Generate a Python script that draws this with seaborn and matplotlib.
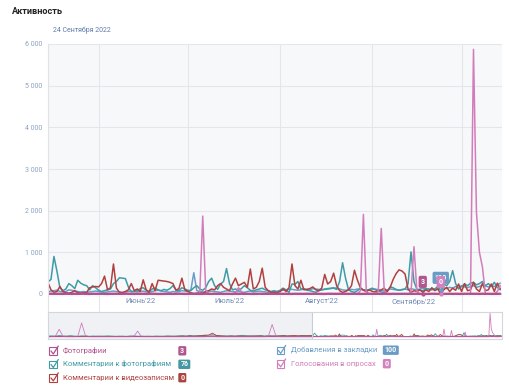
import numpy as np
import pandas as pd
import matplotlib
matplotlib.use("Agg")
import matplotlib.pyplot as plt
import matplotlib.transforms as mtransforms
from matplotlib.patches import Rectangle, FancyBboxPatch
from matplotlib.ticker import FixedLocator, FuncFormatter, NullFormatter
import seaborn as sns

# ---------------- data ----------------
TITLE = "Активность"
DATE_LABEL = "24 Сентября 2022"
START = "2022-05-15"
HOVER = "2022-09-24"
NAV_START = "2021-10-15"

series_names = ["Фотографии", "Комментарии к фотографиям", "Комментарии к видеозаписям",
                "Добавления в закладки", "Голосования в опросах"]
series_colors = ["#b2508f", "#3f9ba6", "#b2403f", "#6a9dc8", "#d27dbb"]
badge_colors = ["#b0578f", "#4597a3", "#a9443f", "#6c9cc5", "#d283bd"]
month_labels = ["Июнь'22", "Июль'22", "Август'22", "Сентябрь'22"]
y_ticks = [0, 1000, 2000, 3000, 4000, 5000, 6000]

photos = [5, 8, 3, 6, 4, 2, 7, 5, 3, 6, 4, 5, 8, 3, 2, 6, 4, 5, 7, 3,
          2, 4, 6, 5, 3, 4, 8, 6, 3, 2, 5, 4, 6, 3, 5, 7, 4, 2, 3, 6,
          5, 4, 3, 6, 8, 5, 3, 4, 6, 5, 3, 2, 4, 6, 5, 3, 7, 4, 5, 3,
          6, 4, 2, 5, 3, 6, 4, 5, 3, 2, 4, 6, 5, 3, 4, 7, 5, 3, 6, 4,
          5, 3, 2, 6, 4, 5, 3, 7, 4, 6, 5, 3, 4, 2, 6, 5, 3, 4, 6, 5,
          3, 4, 5, 6, 3, 2, 4, 5, 6, 3, 4, 5, 3, 6, 4, 2, 5, 3, 4, 6,
          5, 3, 4, 6, 5, 3, 4, 2, 5, 6, 4, 3, 3, 5, 4, 6, 3, 5, 4, 2,
          6, 5, 3, 4, 5, 3, 6, 4, 5, 3, 4, 6, 5]

photo_comments = [290, 350, 900, 550, 150, 80, 120, 250, 200, 130,
                  330, 260, 220, 200, 100, 200, 150, 90, 60, 80,
                  100, 120, 250, 300, 390, 380, 370, 170, 50, 60,
                  80, 130, 150, 90, 60, 120, 140, 100, 80, 110,
                  90, 130, 200, 100, 80, 150, 120, 90, 80, 150,
                  200, 120, 90, 150, 300, 380, 200, 110, 240, 300,
                  610, 250, 100, 120, 90, 130, 200, 150, 90, 70,
                  100, 120, 140, 100, 80, 60, 80, 40, 90, 140,
                  100, 40, 240, 230, 300, 120, 130, 90, 80, 60,
                  40, 80, 100, 110, 120, 130, 140, 110, 300, 750,
                  380, 100, 60, 40, 80, 140, 100, 90, 110, 140,
                  100, 70, 50, 40, 60, 170, 150, 110, 90, 100,
                  120, 240, 1010, 300, 110, 90, 80, 130, 110, 100,
                  120, 180, 76, 240, 200, 300, 560, 250, 120, 180,
                  240, 200, 260, 280, 220, 250, 300, 200, 250, 180,
                  280, 160, 100]

video_comments = [270, 100, 40, 60, 180, 60, 30, 20, 40, 80,
                  30, 20, 30, 40, 150, 170, 180, 170, 250, 430,
                  100, 150, 720, 140, 40, 30, 60, 100, 250, 80,
                  120, 60, 340, 100, 40, 250, 80, 330, 320, 310,
                  300, 280, 250, 90, 130, 380, 100, 60, 30, 10,
                  20, 30, 20, 60, 80, 120, 100, 200, 250, 160,
                  120, 80, 240, 380, 200, 240, 280, 160, 600, 120,
                  160, 300, 620, 160, 80, 40, 40, 30, 60, 120,
                  60, 150, 720, 200, 120, 330, 100, 110, 130, 170,
                  100, 80, 140, 470, 240, 300, 500, 200, 80, 40,
                  60, 100, 200, 570, 330, 150, 90, 60, 100, 60,
                  50, 80, 100, 140, 60, 160, 350, 490, 580, 550,
                  480, 120, 40, 80, 60, 100, 40, 100, 60, 150,
                  80, 120, 0, 100, 160, 60, 140, 90, 240, 60,
                  250, 80, 100, 280, 120, 60, 250, 80, 100, 240,
                  60, 260, 120]

bookmarks = [60, 70, 80, 90, 60, 50, 60, 100, 90, 70,
             60, 50, 60, 40, 50, 60, 70, 60, 50, 40,
             50, 60, 70, 60, 50, 40, 50, 60, 70, 60,
             50, 60, 70, 50, 40, 60, 80, 90, 70, 60,
             50, 40, 60, 50, 60, 80, 70, 60, 90, 510,
             80, 60, 50, 40, 60, 70, 60, 50, 40, 60,
             80, 70, 60, 50, 60, 50, 40, 60, 70, 50,
             60, 70, 60, 50, 40, 50, 60, 70, 80, 90,
             100, 120, 110, 100, 90, 100, 120, 110, 100, 130,
             120, 110, 100, 120, 130, 140, 150, 140, 120, 100,
             90, 100, 110, 100, 120, 110, 100, 90, 100, 110,
             120, 100, 90, 80, 100, 120, 110, 100, 90, 110,
             120, 100, 130, 110, 100, 120, 140, 130, 120, 110,
             120, 140, 100, 150, 130, 160, 140, 180, 150, 200,
             170, 150, 180, 200, 160, 180, 220, 190, 170, 200,
             180, 220, 260]

polls = [0, 0, 0, 0, 0, 0, 0, 0, 0, 0,
         0, 0, 0, 0, 0, 0, 0, 0, 0, 0,
         0, 0, 0, 0, 0, 0, 0, 0, 0, 0,
         0, 0, 0, 0, 0, 0, 0, 0, 0, 0,
         0, 0, 0, 0, 0, 0, 0, 0, 0, 0,
         0, 0, 1870, 100, 0, 0, 0, 0, 0, 0,
         0, 0, 0, 40, 150, 60, 0, 0, 0, 0,
         0, 0, 0, 0, 0, 0, 0, 0, 0, 0,
         0, 0, 0, 0, 0, 0, 0, 0, 0, 0,
         0, 0, 0, 0, 0, 0, 0, 0, 0, 0,
         0, 0, 0, 0, 0, 80, 1910, 50, 0, 0,
         0, 60, 1575, 80, 0, 0, 0, 0, 0, 0,
         0, 0, 40, 1135, 60, 0, 0, 0, 0, 0,
         0, 0, 0, 0, 0, 0, 0, 0, 0, 0,
         0, 0, 0, 5870, 1950, 1000, 650, 0, 0, 0,
         0, 60, 200]

# navigator: earlier period, one value every 3 days
nav_photos = [4, 5, 3, 6, 4, 5, 3, 4, 6, 5, 3, 4, 5, 6, 4, 3, 5, 4, 6, 3,
              5, 4, 3, 6, 5, 4, 3, 5, 4, 6, 3, 5, 4, 6, 5, 3, 4, 5, 6, 4,
              3, 5, 4, 6, 5, 3, 4, 5, 6, 4, 3, 5, 4, 6, 5, 3, 4, 5, 6, 4,
              3, 5, 4, 6, 5, 3, 4, 5, 6, 4, 5]
nav_photo_comments = [150, 200, 120, 300, 180, 100, 250, 160, 120, 200,
                      140, 100, 180, 120, 90, 150, 200, 130, 100, 160,
                      120, 90, 140, 200, 110, 150, 100, 80, 120, 160,
                      100, 140, 180, 120, 160, 200, 250, 180, 300, 200,
                      250, 300, 400, 350, 500, 300, 250, 200, 180, 220,
                      160, 200, 350, 250, 180, 220, 200, 300, 150, 250,
                      200, 180, 260, 300, 200, 250, 180, 220, 300, 250, 280]
nav_video_comments = [100, 80, 120, 60, 90, 140, 100, 80, 60, 100,
                      120, 80, 60, 100, 140, 90, 70, 110, 80, 60,
                      100, 80, 120, 90, 60, 80, 100, 120, 70, 90,
                      110, 80, 100, 140, 90, 120, 160, 100, 200, 150,
                      180, 250, 300, 400, 900, 350, 200, 150, 120, 180,
                      140, 200, 160, 120, 180, 150, 200, 160, 120, 180,
                      150, 200, 160, 250, 180, 220, 300, 200, 250, 220, 260]
nav_bookmarks = [60, 80, 70, 90, 60, 50, 70, 80, 60, 90,
                 70, 60, 50, 80, 70, 60, 90, 80, 70, 60,
                 50, 70, 80, 60, 90, 70, 60, 80, 70, 60,
                 80, 70, 90, 60, 70, 80, 100, 90, 80, 70,
                 90, 100, 120, 110, 100, 90, 80, 70, 90, 80,
                 70, 60, 80, 90, 70, 60, 80, 70, 90, 60,
                 70, 80, 60, 90, 70, 60, 80, 70, 60, 80, 70]
nav_polls = [0, 0, 200, 1870, 100, 0, 0, 0, 150, 3470,
             300, 0, 0, 0, 0, 0, 0, 0, 0, 0,
             0, 0, 0, 100, 1400, 0, 0, 0, 0, 0,
             0, 0, 0, 0, 0, 0, 0, 0, 0, 0,
             0, 0, 0, 200, 300, 0, 0, 0, 0, 0,
             0, 0, 0, 0, 0, 0, 0, 0, 0, 150,
             3080, 200, 0, 0, 0, 0, 0, 0, 0, 0, 0]

# ---------------- frames ----------------
values = [photos, photo_comments, video_comments, bookmarks, polls]
nav_values = [nav_photos, nav_photo_comments, nav_video_comments, nav_bookmarks, nav_polls]
dates = pd.date_range(START, periods=len(photos), freq="D")
nav_dates = pd.date_range(NAV_START, periods=len(nav_photos), freq="3D")
hover = pd.Timestamp(HOVER)
hidx = int((hover - dates[0]).days)

df = pd.concat([pd.DataFrame({"date": dates, "value": v, "series": n})
                for n, v in zip(series_names, values)], ignore_index=True)
nav_df = pd.concat([df] + [pd.DataFrame({"date": nav_dates, "value": v, "series": n})
                           for n, v in zip(series_names, nav_values)], ignore_index=True)
nav_df = nav_df.sort_values(["series", "date"])

palette = dict(zip(series_names, series_colors))
draw_order = ["Добавления в закладки", "Комментарии к фотографиям",
              "Комментарии к видеозаписям", "Голосования в опросах", "Фотографии"]

# ---------------- figure ----------------
sns.set_theme(style="white")
plt.rcParams["font.family"] = ["Roboto", "DejaVu Sans"]

W_PX, H_PX = 509, 390
fig = plt.figure(figsize=(W_PX / 100, H_PX / 100), dpi=100)

def frac_rect(x0, y0, x1, y1):
    return [x0 / W_PX, 1 - y1 / H_PX, (x1 - x0) / W_PX, (y1 - y0) / H_PX]

x_right = dates[-1] + pd.Timedelta(hours=14)
grid_c = "#e3e6ea"
month_starts = pd.date_range("2022-06-01", "2022-10-01", freq="MS")
month_mids = [d + pd.Timedelta(days=14) for d in month_starts[:-1]]

# main axes
ax = fig.add_axes(frac_rect(48, 44, 502, 296.5))
ax.set_facecolor("#f7f8fa")
sns.lineplot(data=df, x="date", y="value", hue="series", hue_order=draw_order,
             palette=palette, estimator=None, linewidth=1.1, legend=False, ax=ax)
ax.lines[-1].set_linewidth(1.7)
ax.set_xlim(dates[0], x_right)
ax.set_ylim(-60, 6000)
ax.yaxis.set_major_locator(FixedLocator(y_ticks))
ax.yaxis.set_major_formatter(FuncFormatter(lambda v, p: f"{int(v):,}".replace(",", " ")))
ax.xaxis.set_major_locator(FixedLocator([matplotlib.dates.date2num(d) for d in month_starts]))
ax.xaxis.set_major_formatter(NullFormatter())
ax.grid(True, color=grid_c, linewidth=0.8)
ax.tick_params(axis="both", length=0, labelsize=5, labelcolor="#8ea2c2", pad=3.8)
ax.set_xlabel("")
ax.set_ylabel("")
for s in ["top", "right", "bottom"]:
    ax.spines[s].set_visible(False)
ax.spines["left"].set_color("#dfe2e6")
ax.spines["left"].set_linewidth(0.8)

# hover badges
hover_badges = [("Добавления в закладки", 0), ("Голосования в опросах", 0), ("Фотографии", -18)]
for name, dx in hover_badges:
    i = series_names.index(name)
    yv = values[i][hidx]
    tr = mtransforms.offset_copy(ax.transData, fig=fig, x=dx, y=0, units="dots")
    ax.scatter([hover], [yv], s=9, color=badge_colors[i], transform=tr, zorder=6, linewidths=0)
    ax.annotate(str(yv), xy=(hover, yv), xytext=(dx, 8), textcoords="offset pixels",
                ha="center", va="bottom", fontsize=5, fontweight="bold", color="white", zorder=7,
                bbox=dict(boxstyle="round,pad=0.3,rounding_size=0.25", fc=badge_colors[i], ec="none"))

# month band
bax = fig.add_axes(frac_rect(48, 296.5, 502, 311.7))
bax.set_facecolor("white")
bax.set_xlim(dates[0], x_right)
bax.set_ylim(0, 1)
bax.set_yticks([])
bax.xaxis.set_major_locator(FixedLocator([matplotlib.dates.date2num(d) for d in month_starts]))
bax.xaxis.set_major_formatter(NullFormatter())
bax.tick_params(axis="x", length=0)
bax.grid(True, axis="x", color=grid_c, linewidth=0.8)
for s in ["top", "right", "bottom"]:
    bax.spines[s].set_visible(False)
bax.spines["left"].set_color("#dfe2e6")
bax.spines["left"].set_linewidth(0.8)
btr = mtransforms.blended_transform_factory(bax.transData, bax.transAxes)
for d, lab in zip(month_mids, month_labels):
    bax.text(d, 0.68, lab, transform=btr, ha="center", va="center", fontsize=5.5, color="#7089b3")

# navigator
nax = fig.add_axes(frac_rect(48, 311.7, 502, 338.5))
nax.set_facecolor("white")
nax.axvspan(nav_dates[0], dates[0], color="#eff1f4", lw=0, zorder=0)
sns.lineplot(data=nav_df, x="date", y="value", hue="series", hue_order=draw_order,
             palette=palette, estimator=None, linewidth=0.6, legend=False, ax=nax, sort=False)
nax.axvline(dates[0], color="#c8ced6", lw=0.8)
nax.set_xlim(nav_dates[0], x_right)
nax.set_ylim(-450, 6270)
nax.set_xticks([])
nax.set_yticks([])
nax.set_xlabel("")
nax.set_ylabel("")
for s in nax.spines.values():
    s.set_color("#d3d8de")
    s.set_linewidth(0.8)

# overlay (title, legend)
lax = fig.add_axes([0, 0, 1, 1], zorder=-1)
lax.set_xlim(0, W_PX)
lax.set_ylim(H_PX, 0)
lax.axis("off")
lax.text(11.7, 13.6, TITLE, fontsize=6.6, fontweight="bold", color="#222222", va="baseline", ha="left")
lax.text(53.3, 31.6, DATE_LABEL, fontsize=5, color="#5f7bab", va="baseline", ha="left")

legend_pos = [(49.3, 347.3, 62.7, 178.3), (49.3, 360.8, 62.7, 178.3), (49.3, 374.2, 62.7, 178.3),
              (276.7, 346.7, 290.7, 382.8), (276.7, 360.2, 290.7, 382.8)]
legend_idx = [0, 1, 2, 3, 4]
for i, (bx, by, tx, gx) in zip(legend_idx, legend_pos):
    c = series_colors[i]
    lax.add_patch(Rectangle((bx, by), 7.4, 7.6, fill=False, ec=c, lw=0.8))
    lax.plot([bx + 1.7, bx + 4.0, bx + 9.0], [by + 3.7, by + 6.7, by - 1.3], color=c, lw=0.9,
             solid_capstyle="round", solid_joinstyle="round")
    lax.text(tx, by + 5.6, series_names[i], fontsize=5.5, color=c, va="baseline", ha="left")
    val = str(values[i][hidx])
    w = 4 + 4 * len(val)
    lax.add_patch(FancyBboxPatch((gx, by - 1.2), w, 9.4,
                                 boxstyle="round,pad=0,rounding_size=1.4",
                                 fc=badge_colors[i], ec="none"))
    lax.text(gx + w / 2, by + 3.5, val, fontsize=5, fontweight="bold", color="white",
             ha="center", va="center")

fig.savefig("out.png", dpi=100)
